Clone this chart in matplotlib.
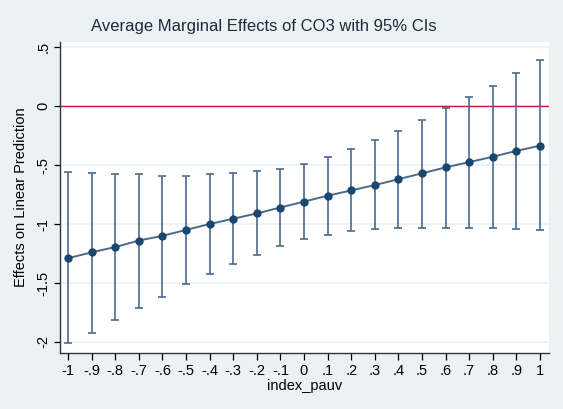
import matplotlib.pyplot as plt

plt.rcParams['font.family'] = ['Liberation Sans', 'DejaVu Sans']

x_vals = [-1, -.9, -.8, -.7, -.6, -.5, -.4, -.3, -.2, -.1, 0,
          .1, .2, .3, .4, .5, .6, .7, .8, .9, 1]
effect = [-1.29, -1.24, -1.195, -1.14, -1.10, -1.05, -1.00, -0.955, -0.91, -0.86, -0.81,
          -0.76, -0.715, -0.67, -0.62, -0.57, -0.52, -0.475, -0.43, -0.38, -0.336]
ci_low = [-2.01, -1.92, -1.81, -1.71, -1.62, -1.51, -1.42, -1.34, -1.26, -1.19, -1.13,
          -1.09, -1.06, -1.04, -1.03, -1.03, -1.03, -1.03, -1.03, -1.04, -1.05]
ci_high = [-0.56, -0.57, -0.58, -0.58, -0.59, -0.59, -0.58, -0.57, -0.55, -0.53, -0.49,
           -0.435, -0.36, -0.29, -0.21, -0.12, -0.02, 0.08, 0.17, 0.28, 0.39]
xtick_labels = ['-1', '-.9', '-.8', '-.7', '-.6', '-.5', '-.4', '-.3', '-.2', '-.1', '0',
                '.1', '.2', '.3', '.4', '.5', '.6', '.7', '.8', '.9', '1']
ytick_vals = [-2, -1.5, -1, -.5, 0, .5]
ytick_labels = ['-2', '-1.5', '-1', '-.5', '0', '.5']

bg = '#eaf2f3'
navy = '#1a476f'

fig = plt.figure(figsize=(5.63, 4.09), dpi=100, facecolor=bg)
ax = fig.add_axes([0.1066, 0.137, 0.8684, 0.760])
ax.set_facecolor('white')

for yv in ytick_vals:
    ax.axhline(yv, color=bg, lw=1.2, zorder=0)
ax.axhline(0, color='#d0103a', lw=1.0, zorder=1)

lo_err = [e - l for e, l in zip(effect, ci_low)]
hi_err = [h - e for e, h in zip(effect, ci_high)]
ax.errorbar(x_vals, effect, yerr=[lo_err, hi_err], fmt='none', ecolor='#4a6a8c',
            elinewidth=1.2, capsize=3, capthick=1.2, zorder=2)
ax.plot(x_vals, effect, color='#4a6a8c', lw=1.4, zorder=3)
ax.plot(x_vals, effect, 'o', color=navy, ms=5, zorder=4)

ax.set_xlim(-1.034, 1.038)
ax.set_ylim(-2.093, 0.542)
ax.set_xticks(x_vals)
ax.set_xticklabels(xtick_labels)
ax.set_yticks(ytick_vals)
ax.set_yticklabels(ytick_labels, rotation=90, va='center')
ax.tick_params(labelsize=10.5, colors='black', width=0.9)
ax.tick_params(axis='y', length=4, pad=3)
ax.tick_params(axis='x', length=5, pad=3)

for s in ['top', 'right']:
    ax.spines[s].set_visible(False)
for s in ['left', 'bottom']:
    ax.spines[s].set_color('#333333')
    ax.spines[s].set_linewidth(1.0)

ax.set_xlabel('index_pauv', fontsize=10.5, labelpad=1)
ax.set_ylabel('Effects on Linear Prediction', fontsize=10.5)
ax.yaxis.set_label_coords(-0.065, 0.5)
fig.text(264 / 563, 1 - 26 / 409, 'Average Marginal Effects of CO3 with 95% CIs',
         fontsize=12, color='#1e2a3a', ha='center', va='center')

fig.savefig('out.png', dpi=100, facecolor=bg)
